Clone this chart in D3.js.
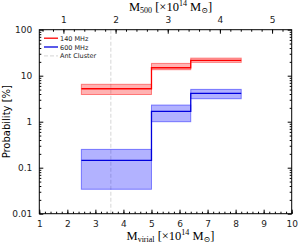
<!DOCTYPE html>
<html><head><meta charset="utf-8">
<script src="https://cdn.jsdelivr.net/npm/d3@7"></script>
<style>body{margin:0;background:#fff}svg{display:block}</style>
</head><body>
<script>
// Data
const binEdges = [2.5, 5.0, 6.4, 8.2];
const p140 = [5.2, 14.9, 21.5];
const p140Lo = [3.9, 13.5, 19.5];
const p140Hi = [6.5, 18.5, 24.1];
const p600 = [0.144, 1.67, 4.12];
const p600Lo = [0.034, 1.0, 3.16];
const p600Hi = [0.25, 2.3, 5.04];
const antCluster = 3.55;
const bottomTicks = [1,2,3,4,5,6,7,8,9,10];
const topTicks = [1,2,3,4,5];
const yTicks = [0.01, 0.1, 1, 10, 100];
const yTickLabels = ["0.01","0.1","1","10","100"];
const m500ToVir = 1.86;
const legendLabels = ["140 MHz","600 MHz","Ant Cluster"];

const W=299,H=246;
const m={l:39.3,r:7.3,t:29.7,b:32.3};
const svg=d3.select("body").append("svg").attr("width",W).attr("height",H);
const x=d3.scaleLinear().domain([1,10]).range([m.l,W-m.r]);
const xTop=d3.scaleLinear().domain([1/m500ToVir,10/m500ToVir]).range([m.l,W-m.r]);
const y=d3.scaleLog().domain([0.01,100]).range([H-m.b,m.t]);
const font="'DejaVu Sans', sans-serif";
const serif="'Liberation Serif','DejaVu Serif',serif";

const g=svg.append("g");
function seg(vals,lo,hi,color,fill){
  for(let i=0;i<vals.length;i++){
    g.append("rect").attr("x",x(binEdges[i])).attr("width",x(binEdges[i+1])-x(binEdges[i]))
      .attr("y",y(hi[i])).attr("height",y(lo[i])-y(hi[i]))
      .attr("fill",fill).attr("fill-opacity",0.3).attr("stroke",fill).attr("stroke-opacity",0.45).attr("stroke-width",1);
  }
  const pts=[];
  for(let i=0;i<vals.length;i++){pts.push([binEdges[i],vals[i]]);pts.push([binEdges[i+1],vals[i]]);}
  g.append("path").attr("d",d3.line().x(d=>x(d[0])).y(d=>y(d[1]))(pts))
    .attr("fill","none").attr("stroke",color).attr("stroke-width",1.3);
}
// dashed ant cluster line
g.append("line").attr("x1",x(antCluster)).attr("x2",x(antCluster)).attr("y1",m.t).attr("y2",H-m.b)
  .attr("stroke","#ddd").attr("stroke-width",1.2).attr("stroke-dasharray","4,2");
seg(p140,p140Lo,p140Hi,"#ff0000","#ff0000");
seg(p600,p600Lo,p600Hi,"#0000dd","#0000ff");

// frame
svg.append("rect").attr("x",m.l).attr("y",m.t).attr("width",W-m.l-m.r).attr("height",H-m.t-m.b)
  .attr("fill","none").attr("stroke","#000").attr("stroke-width",1);

const bMinor=d3.range(1,10.001,0.2);
const tMinor=d3.range(0.6,5.38,0.2);
const yMinor=[];
[0.01,0.1,1,10].forEach(d=>{for(let k=2;k<10;k++)yMinor.push(d*k);});

function styleAxis(sel){sel.select(".domain").remove();sel.selectAll("line").attr("stroke","#000");
  sel.selectAll("text").attr("font-family",font).attr("font-size",9).attr("fill","#222");}
// bottom
svg.append("g").attr("transform",`translate(0,${H-m.b})`).call(d3.axisBottom(x).tickValues(bMinor).tickSize(-2).tickFormat("")).call(styleAxis);
svg.append("g").attr("transform",`translate(0,${H-m.b})`).call(d3.axisBottom(x).tickValues(bottomTicks).tickSizeInner(-4).tickPadding(7).tickFormat(d3.format("d"))).call(styleAxis);
// top
svg.append("g").attr("transform",`translate(0,${m.t})`).call(d3.axisTop(xTop).tickValues(tMinor).tickSize(-2).tickFormat("")).call(styleAxis);
svg.append("g").attr("transform",`translate(0,${m.t})`).call(d3.axisTop(xTop).tickValues(topTicks).tickSizeInner(-4).tickPadding(7).tickFormat(d3.format("d"))).call(styleAxis);
// left
svg.append("g").attr("transform",`translate(${m.l},0)`).call(d3.axisLeft(y).tickValues(yMinor).tickSize(-2).tickFormat("")).call(styleAxis);
svg.append("g").attr("transform",`translate(${m.l},0)`).call(d3.axisLeft(y).tickValues(yTicks).tickSizeInner(-4).tickPadding(7).tickFormat((d,i)=>yTickLabels[i])).call(styleAxis);
// right
svg.append("g").attr("transform",`translate(${W-m.r},0)`).call(d3.axisRight(y).tickValues(yMinor).tickSize(-2).tickFormat("")).call(styleAxis);
svg.append("g").attr("transform",`translate(${W-m.r},0)`).call(d3.axisRight(y).tickValues(yTicks).tickSizeInner(-4).tickFormat("")).call(styleAxis);

// axis titles
function title(yPos,sub){
  const t=svg.append("text").attr("x",(m.l+W-m.r)/2+5).attr("y",yPos).attr("text-anchor","middle")
    .attr("font-family",serif).attr("font-size",12.5);
  t.append("tspan").text("M");
  t.append("tspan").attr("font-size",8).attr("dy",2).text(sub);
  t.append("tspan").attr("dy",-2).text(" [×10");
  t.append("tspan").attr("font-size",8).attr("dy",-5).text("14");
  t.append("tspan").attr("dy",5).text(" M");
  t.append("tspan").attr("font-size",8).attr("dy",2).text("⊙");
  t.append("tspan").attr("dy",-2).text("]");
}
title(240,"virial");
title(11,"500");

svg.append("text").attr("transform",`translate(10,${(m.t+H-m.b)/2}) rotate(-90)`).attr("text-anchor","middle")
  .attr("font-family",font).attr("font-size",10).text("Probability [%]");

// legend
const lg=[{c:"#ff0000",d:null},{c:"#0000dd",d:null},{c:"#ddd",d:"4,2"}];
lg.forEach((e,i)=>{
  const yy=38.2+i*8.8;
  svg.append("line").attr("x1",44).attr("x2",58).attr("y1",yy).attr("y2",yy).attr("stroke",e.c)
    .attr("stroke-width",1.3).attr("stroke-dasharray",e.d);
  svg.append("text").attr("x",60).attr("y",yy+2.5).attr("font-family",font).attr("font-size",6.5).attr("fill","#222").text(legendLabels[i]);
});
</script>
</body></html>
